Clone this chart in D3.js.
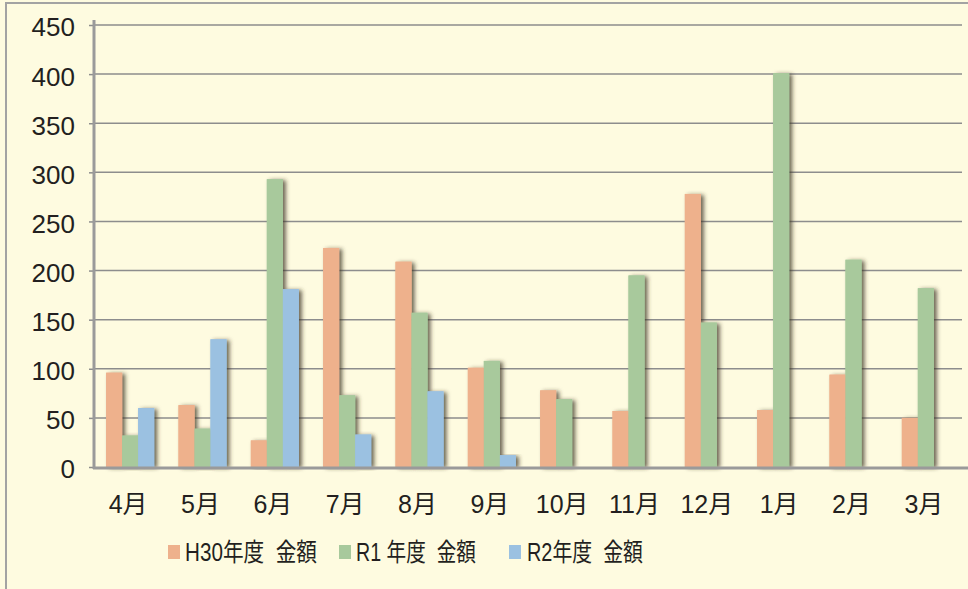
<!DOCTYPE html>
<html>
<head>
<meta charset="utf-8">
<script src="https://cdn.jsdelivr.net/npm/d3@7"></script>
<style>
  body { margin: 0; background: #fefbe0; }
  text { font-family: "Liberation Sans", "Noto Sans CJK JP", sans-serif; fill: #231f20; }
</style>
</head>
<body>
<div id="viz"></div>
<script>
const w = 968;
const h = 589;

const months = ['4月', '5月', '6月', '7月', '8月', '9月', '10月', '11月', '12月', '1月', '2月', '3月'];
const seriesNames = ['H30年度  金額', 'R1 年度  金額', 'R2年度  金額'];
const h30 = [96, 63, 27, 223, 209, 101, 78, 57, 278, 58, 94, 50];
const r1 = [32, 39, 293, 73, 157, 108, 69, 195, 147, 401, 211, 182];
const r2 = [60, 130, 181, 33, 77, 12, null, null, null, null, null, null];
const yTicks = [0, 50, 100, 150, 200, 250, 300, 350, 400, 450];
const colors = ['#eeb18c', '#a8c99c', '#9bc1e1'];

const allSeries = [h30, r1, r2];

const svg = d3.select('#viz').append('svg')
    .attr('width', w)
    .attr('height', h)

// drop shadow for bars
const defs = svg.append('defs')
defs.append('filter')
    .attr('id', 'shadow')
    .attr('x', '-50%').attr('y', '-10%')
    .attr('width', '200%').attr('height', '120%')
  .append('feDropShadow')
    .attr('dx', 3).attr('dy', 1)
    .attr('stdDeviation', 2.2)
    .attr('flood-color', '#3a3320')
    .attr('flood-opacity', 0.75)

// outer frame
svg.append('rect')
    .attr('x', 6).attr('y', 3)
    .attr('width', w + 10).attr('height', h + 10)
    .attr('fill', '#fefbe0')
    .attr('stroke', '#a3a3a3')
    .attr('stroke-width', 2)

const x = d3.scaleBand()
    .domain(months)
    .range([94, 962])

const x1 = d3.scaleBand()
    .domain(d3.range(3))
    .range([0, 48])

const y = d3.scaleLinear()
    .domain([0, 450])
    .range([467, 25])

// gridlines + y ticks
const yAxis = svg.append('g')
    .attr('transform', 'translate(94,0)')
    .call(d3.axisLeft(y).tickValues(yTicks).tickSize(5).tickPadding(14))

yAxis.select('.domain').remove()
yAxis.selectAll('.tick line').attr('stroke', '#8d8d8d').attr('stroke-width', 1.5)
yAxis.selectAll('.tick text')
    .attr('font-size', 26)
    .attr('dy', '0.42em')
    .attr('fill', '#231f20')

svg.append('g')
  .selectAll('line')
  .data(yTicks.filter(d => d > 0))
  .join('line')
    .attr('x1', 94).attr('x2', 962)
    .attr('y1', d => y(d)).attr('y2', d => y(d))
    .attr('stroke', '#8d8d8d')
    .attr('stroke-width', 1.5)

// bars
const groups = svg.append('g')
  .selectAll('g')
  .data(months)
  .join('g')
    .attr('transform', d => `translate(${x(d) + x.bandwidth() / 2 - 24},0)`)

const barData = (m, i) => allSeries.map((s, k) => ({ k: k, v: s[i] })).filter(d => d.v != null);

groups.selectAll('rect.shadow')
  .data(barData)
  .join('rect')
    .attr('class', 'shadow')
    .attr('x', d => x1(d.k))
    .attr('width', x1.bandwidth())
    .attr('y', d => y(d.v))
    .attr('height', d => y(0) - y(d.v))
    .attr('fill', d => colors[d.k])
    .attr('filter', 'url(#shadow)')

// bars again on top so neighbours' shadows don't cover them
groups.selectAll('rect.top')
  .data(barData)
  .join('rect')
    .attr('class', 'top')
    .attr('x', d => x1(d.k))
    .attr('width', x1.bandwidth())
    .attr('y', d => y(d.v))
    .attr('height', d => y(0) - y(d.v))
    .attr('fill', d => colors[d.k])

// axes lines
svg.append('line')
    .attr('x1', 94).attr('x2', 94)
    .attr('y1', 20).attr('y2', 469)
    .attr('stroke', '#9a9a9a').attr('stroke-width', 3)

svg.append('line')
    .attr('x1', 93).attr('x2', w)
    .attr('y1', 468).attr('y2', 468)
    .attr('stroke', '#9a9a9a').attr('stroke-width', 3)

// x labels
svg.append('g')
  .selectAll('text')
  .data(months)
  .join('text')
    .attr('x', d => x(d) + x.bandwidth() / 2 - 2)
    .attr('y', 513)
    .attr('text-anchor', 'middle')
    .attr('font-size', 25)
    .text(d => d)

// legend
const legendX = [168, 339, 509];
const legendW = [132, 120, 116];
const legend = svg.append('g')
  .selectAll('g')
  .data(seriesNames)
  .join('g')
    .attr('transform', (d, i) => `translate(${legendX[i]},545)`)

legend.append('rect')
    .attr('width', 12).attr('height', 14)
    .attr('fill', (d, i) => colors[i])

legend.append('text')
    .attr('x', (d, i) => i == 2 ? 18 : 17)
    .attr('y', 16)
    .attr('font-size', 25)
    .attr('textLength', (d, i) => legendW[i])
    .attr('lengthAdjust', 'spacingAndGlyphs')
    .style('white-space', 'pre')
    .text(d => d)
</script>
</body>
</html>
